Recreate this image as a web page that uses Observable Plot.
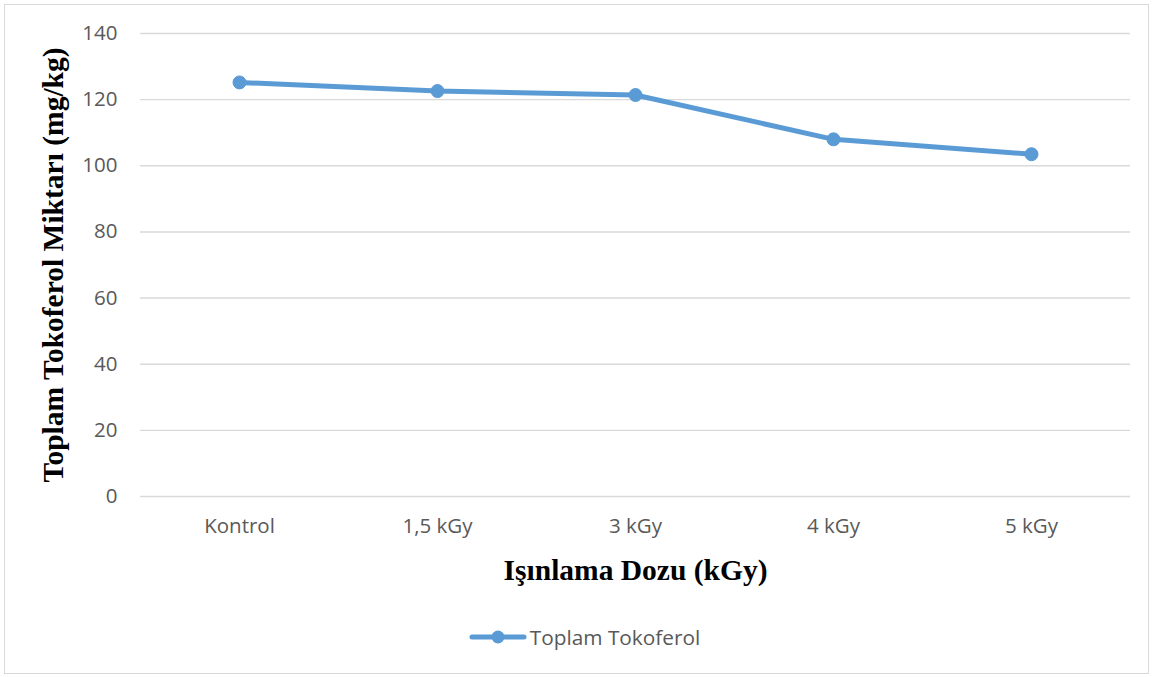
<!DOCTYPE html>
<html>
<head>
<meta charset="utf-8">
<script src="https://cdn.jsdelivr.net/npm/d3@7"></script>
<script src="https://cdn.jsdelivr.net/npm/@observablehq/plot@0.6"></script>
<style>
  html, body { margin: 0; padding: 0; background: #fff; }
  #wrap { position: relative; width: 1153px; height: 677px; overflow: hidden; }
  #frame { position: absolute; left: 4px; top: 4px; width: 1145px; height: 670px;
           border: 1.5px solid #d9d9d9; box-sizing: border-box; }
  #chart { position: absolute; left: 0; top: 0; }
  #chart svg { overflow: visible; }
  g[aria-label="y-axis tick label"] text, g[aria-label="x-axis tick label"] text {
    font-size: 20.5px; fill: #595959;
  }
  g[aria-label="y-axis label"] text, g[aria-label="x-axis label"] text {
    font-family: "Liberation Serif", "Times New Roman", serif;
    font-weight: bold; font-size: 29.5px; fill: #000;
  }
  #legend { position: absolute; top: 623px; left: 8px; width: 1153px; display: flex;
            justify-content: center; align-items: center;
            font-family: "Open Sans", sans-serif; font-size: 20.8px; color: #595959; }
  #legend svg { margin-right: 3px; }
</style>
</head>
<body>
<div id="wrap">
  <div id="frame"></div>
  <div id="chart"></div>
  <div id="legend"></div>
</div>
<script>
// Irradiation doses and total tocopherol content (mg/kg)
const doses = ["Kontrol", "1,5 kGy", "3 kGy", "4 kGy", "5 kGy"];
const tocopherol = [125.2, 122.6, 121.4, 108.0, 103.5];
const yTicks = [0, 20, 40, 60, 80, 100, 120, 140];
const seriesName = "Toplam Tokoferol";
const xTitle = "Işınlama Dozu (kGy)";
const yTitle = "Toplam Tokoferol Miktarı (mg/kg)";

const color = "#5b9bd5";
const data = doses.map((d, i) => ({dose: d, value: tocopherol[i]}));

const chart = Plot.plot({
  width: 1153,
  height: 600,
  marginTop: 33,
  marginBottom: 104,
  marginLeft: 140,
  marginRight: 23,
  style: {fontFamily: "'Open Sans', sans-serif", fontSize: "20.5px", color: "#595959", background: "transparent"},
  x: {type: "point", domain: doses, padding: 0.5},
  y: {domain: [0, 140]},
  marks: [
    Plot.gridY(yTicks, {stroke: "#d9d9d9", strokeOpacity: 1, strokeWidth: 1.4}),
    Plot.axisY(yTicks, {tickSize: 0, tickPadding: 23, label: yTitle, labelAnchor: "center",
                        labelArrow: "none", labelOffset: 98}),
    Plot.axisX({tickSize: 0, tickPadding: 22, label: xTitle, labelAnchor: "center",
                labelArrow: "none", labelOffset: 83}),
    Plot.line(data, {x: "dose", y: "value", stroke: color, strokeWidth: 5, strokeLinejoin: "round"}),
    Plot.dot(data, {x: "dose", y: "value", r: 6.5, fill: color, stroke: color, strokeWidth: 1})
  ]
});
document.getElementById("chart").appendChild(chart);

// Legend: line with marker plus the series name
const legend = document.getElementById("legend");
const ns = "http://www.w3.org/2000/svg";
const sw = document.createElementNS(ns, "svg");
sw.setAttribute("width", 58);
sw.setAttribute("height", 20);
sw.innerHTML = `<line x1="3" x2="55" y1="10" y2="10" stroke="${color}" stroke-width="5" stroke-linecap="round"/>
<circle cx="29" cy="10" r="6.5" fill="${color}"/>`;
legend.appendChild(sw);
const lt = document.createElement("span");
lt.textContent = seriesName;
legend.appendChild(lt);
</script>
</body>
</html>
